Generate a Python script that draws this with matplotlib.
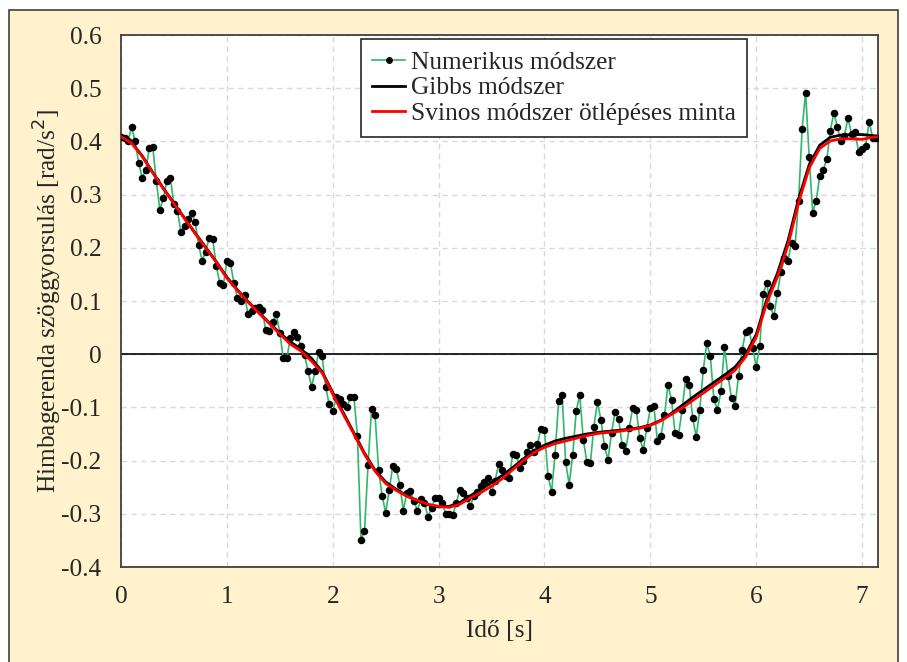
import numpy as np
import matplotlib
matplotlib.use('Agg')
import matplotlib.pyplot as plt
from matplotlib.patches import Rectangle
from matplotlib.ticker import FuncFormatter, MultipleLocator

plt.rcParams['font.family'] = ['Liberation Serif', 'DejaVu Serif']

# numerical solution, sampled every 1/30 s
dt_num = 1 / 30
numerikus = [
    0.409, 0.407, 0.400, 0.428, 0.400, 0.360, 0.332, 0.346, 0.387, 0.389,
    0.326, 0.272, 0.293, 0.326, 0.331, 0.282, 0.269, 0.230, 0.241, 0.254,
    0.266, 0.249, 0.205, 0.176, 0.193, 0.219, 0.216, 0.166, 0.134, 0.130,
    0.175, 0.171, 0.134, 0.106, 0.101, 0.112, 0.075, 0.081, 0.087, 0.089,
    0.084, 0.046, 0.043, 0.060, 0.076, 0.040, -0.007, -0.007, 0.031, 0.042,
    0.033, 0.016, -0.001, -0.032, -0.061, -0.032, 0.004, -0.004, -0.062, -0.094,
    -0.107, -0.081, -0.084, -0.093, -0.100, -0.081, -0.081, -0.154, -0.349, -0.333,
    -0.208, -0.103, -0.115, -0.218, -0.266, -0.298, -0.256, -0.210, -0.215, -0.245,
    -0.294, -0.260, -0.258, -0.275, -0.294, -0.272, -0.279, -0.306, -0.289, -0.271,
    -0.271, -0.279, -0.300, -0.301, -0.303, -0.280, -0.255, -0.261, -0.271, -0.285,
    -0.266, -0.259, -0.247, -0.241, -0.233, -0.259, -0.238, -0.207, -0.217, -0.228,
    -0.233, -0.188, -0.189, -0.213, -0.200, -0.183, -0.170, -0.184, -0.169, -0.140,
    -0.143, -0.228, -0.259, -0.189, -0.088, -0.077, -0.203, -0.245, -0.189, -0.106,
    -0.077, -0.161, -0.202, -0.205, -0.136, -0.090, -0.123, -0.173, -0.198, -0.148,
    -0.109, -0.121, -0.170, -0.181, -0.139, -0.101, -0.104, -0.158, -0.180, -0.139,
    -0.102, -0.098, -0.163, -0.153, -0.115, -0.057, -0.086, -0.148, -0.151, -0.104,
    -0.046, -0.057, -0.120, -0.156, -0.104, -0.029, 0.021, -0.004, -0.085, -0.104,
    -0.070, 0.014, -0.041, -0.082, -0.097, -0.040, 0.008, 0.042, 0.045, 0.012,
    -0.024, 0.016, 0.114, 0.134, 0.090, 0.071, 0.115, 0.155, 0.180, 0.176,
    0.210, 0.203, 0.288, 0.423, 0.492, 0.371, 0.266, 0.289, 0.335, 0.346,
    0.367, 0.420, 0.454, 0.427, 0.400, 0.411, 0.444, 0.414, 0.417, 0.381,
    0.385, 0.392, 0.437, 0.407, 0.407,
]

# smooth curves, read every 0.1 s (+ last point at 7.15 s)
t_curve = np.r_[np.arange(72) * 0.1, 7.15]
gibbs = [
    0.409, 0.398, 0.373, 0.342, 0.312, 0.284, 0.256, 0.228, 0.201, 0.174,
    0.145, 0.121, 0.099, 0.079, 0.059, 0.040, 0.023, 0.010, -0.008, -0.033,
    -0.072, -0.110, -0.148, -0.186, -0.218, -0.240, -0.254, -0.266, -0.276, -0.283,
    -0.287, -0.286, -0.279, -0.266, -0.254, -0.241, -0.228, -0.213, -0.197, -0.182,
    -0.171, -0.163, -0.158, -0.154, -0.150, -0.147, -0.145, -0.143, -0.141, -0.138,
    -0.133, -0.124, -0.111, -0.096, -0.081, -0.067, -0.053, -0.039, -0.024, 0.000,
    0.037, 0.103, 0.152, 0.213, 0.292, 0.356, 0.393, 0.408, 0.412, 0.413,
    0.413, 0.411, 0.410,
]
svinos = [
    0.409, 0.397, 0.372, 0.341, 0.311, 0.283, 0.255, 0.227, 0.200, 0.173,
    0.143, 0.120, 0.098, 0.078, 0.058, 0.038, 0.019, 0.006, -0.013, -0.035,
    -0.075, -0.113, -0.150, -0.188, -0.220, -0.243, -0.256, -0.267, -0.275, -0.282,
    -0.286, -0.288, -0.282, -0.270, -0.260, -0.248, -0.234, -0.217, -0.200, -0.185,
    -0.175, -0.168, -0.163, -0.158, -0.153, -0.149, -0.147, -0.145, -0.142, -0.139,
    -0.134, -0.125, -0.113, -0.101, -0.087, -0.073, -0.059, -0.045, -0.030, -0.005,
    0.032, 0.097, 0.145, 0.205, 0.285, 0.350, 0.387, 0.401, 0.405, 0.405,
    0.404, 0.408, 0.409,
]

t_num = np.arange(len(numerikus)) * dt_num

fig = plt.figure(figsize=(9.07, 6.62), dpi=100)
fig.patch.set_facecolor('white')
# beige chart area with a dark frame
fig.patches.append(Rectangle((0.01, -0.01), 0.98, 0.995, transform=fig.transFigure,
                             facecolor='#FFF2CC', edgecolor='#404040', lw=1.2, zorder=-10))

ax = fig.add_axes([0.1334, 0.1435, 0.8346, 0.8035])
ax.set_facecolor('white')

ax.plot(t_num, numerikus, color='#2EB86A', lw=1.2, marker='o', ms=4.4,
        mfc='black', mec='black', label='Numerikus módszer', zorder=3)
ax.plot(t_curve, gibbs, color='black', lw=2.0, label='Gibbs módszer', zorder=4)
ax.plot(t_curve, svinos, color='#FF0000', lw=2.0,
        label='Svinos módszer ötlépéses minta', zorder=5)

ax.axhline(0, color='black', lw=1.2, zorder=2)

ax.set_xlim(0, 7.15)
ax.set_ylim(-0.4, 0.6)
ax.xaxis.set_major_locator(MultipleLocator(1))
ax.yaxis.set_major_locator(MultipleLocator(0.1))
ax.yaxis.set_major_formatter(FuncFormatter(lambda v, p: '0' if abs(v) < 1e-9 else f'{v:.1f}'))
ax.grid(True, color='#D9D9D9', ls=(0, (4, 3)), lw=1.0)
ax.set_axisbelow(True)

for s in ax.spines.values():
    s.set_color('#404040')
    s.set_linewidth(1.3)
ax.tick_params(length=0, labelsize=18.3, colors='#262626', pad=14)

ax.set_xlabel('Idő [s]', fontsize=18.3, color='#262626', labelpad=8)
ax.set_ylabel('Himbagerenda szöggyorsulás [rad/s$^2$]', fontsize=18.3, color='#262626', labelpad=-2)

leg = ax.legend(loc='upper left', bbox_to_anchor=(0.317, 0.992), fontsize=18.3,
                frameon=True, fancybox=False, edgecolor='#262626', framealpha=1,
                handlelength=1.3, handletextpad=0.2, borderpad=0.45, labelspacing=0.12,
                borderaxespad=0, markerscale=0.9)
leg.get_frame().set_linewidth(1.2)
for txt in leg.get_texts():
    txt.set_color('#262626')

fig.savefig('out.png', dpi=100, facecolor=fig.get_facecolor())
